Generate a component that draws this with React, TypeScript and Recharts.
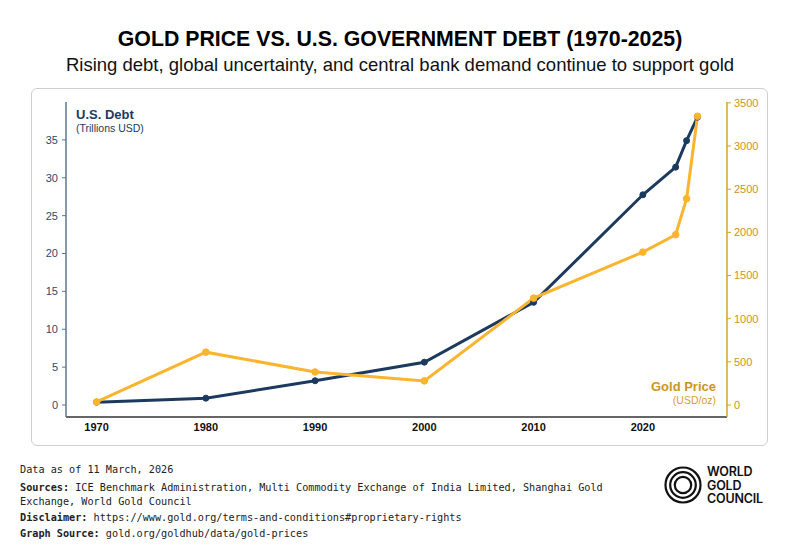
import React from "react";
import { LineChart, Line, XAxis, YAxis } from "recharts";

const years = [1970, 1980, 1990, 2000, 2010, 2020, 2023, 2024, 2025];
const debtTrillions = [0.37, 0.9, 3.2, 5.65, 13.55, 27.75, 31.4, 34.9, 38.0];
const goldPrice = [36, 612, 383, 279, 1238, 1771, 1972, 2390, 3345];
const xTicks = [1970, 1980, 1990, 2000, 2010, 2020];
const debtTicks = [0, 5, 10, 15, 20, 25, 30, 35];
const goldTicks = [0, 500, 1000, 1500, 2000, 2500, 3000, 3500];

const data = years.map((y, i) => ({ year: y, debt: debtTrillions[i], gold: goldPrice[i] }));

const NAVY = "#1b3a5e";
const GOLD = "#fbb42e";
const GOLD_TEXT = "#cc9520";
const SANS = "'Liberation Sans', Arial, Helvetica, sans-serif";
const MONO = "'DejaVu Sans Mono', 'Liberation Mono', monospace";

export default function App() {
  return (
    <div style={{ position: "absolute", left: 0, top: 0, width: 800, height: 560, background: "#fff", fontFamily: SANS, overflow: "hidden" }}>
      <div style={{ position: "absolute", left: 0, top: 26, width: 800, textAlign: "center", fontSize: 21.3, fontWeight: 700, color: "#000", lineHeight: "26px" }}>
        GOLD PRICE VS. U.S. GOVERNMENT DEBT (1970-2025)
      </div>
      <div style={{ position: "absolute", left: 0, top: 54, width: 800, textAlign: "center", fontSize: 18.5, color: "#111", lineHeight: "22px" }}>
        Rising debt, global uncertainty, and central bank demand continue to support gold
      </div>
      <div style={{ position: "absolute", left: 31, top: 88, width: 737, height: 358, border: "1px solid #cfcfcf", borderRadius: 6, boxSizing: "border-box" }} />
      <div style={{ position: "absolute", left: 0, top: 0 }}>
        <LineChart width={800} height={560} data={data} margin={{ top: 102, right: 0, bottom: 113, left: 0 }}>
          <XAxis
            dataKey="year"
            type="number"
            domain={[1967.2, 2027.7]}
            ticks={xTicks}
            allowDataOverflow
            tickLine={false}
            height={30}
            axisLine={{ stroke: "#333", strokeWidth: 1.3 }}
            tick={{ fill: "#111", fontSize: 11, fontWeight: 700, fontFamily: SANS }}
            tickMargin={0}
          />
          <YAxis
            yAxisId="debt"
            orientation="left"
            domain={[0, 40]}
            ticks={debtTicks}
            padding={{ top: 0, bottom: 12 }}
            width={66}
            axisLine={{ stroke: "#5f7690", strokeWidth: 1.5 }}
            tickLine={{ stroke: "#5f7690" }}
            tickSize={4}
            tickMargin={4}
            tick={{ fill: "#2c4a6e", fontSize: 11, fontFamily: SANS }}
          />
          <YAxis
            yAxisId="gold"
            orientation="right"
            domain={[0, 3510]}
            ticks={goldTicks}
            padding={{ top: 0, bottom: 12 }}
            width={73}
            axisLine={{ stroke: "#d8a228", strokeWidth: 1.5 }}
            tickLine={{ stroke: "#d8a228" }}
            tickSize={4}
            tickMargin={3}
            tick={{ fill: GOLD_TEXT, fontSize: 11, fontFamily: SANS }}
          />
          <Line
            yAxisId="debt"
            dataKey="debt"
            type="linear"
            stroke={NAVY}
            strokeWidth={3}
            dot={{ r: 3, fill: NAVY, stroke: NAVY, strokeWidth: 1 }}
            isAnimationActive={false}
          />
          <Line
            yAxisId="gold"
            dataKey="gold"
            type="linear"
            stroke={GOLD}
            strokeWidth={3}
            dot={{ r: 3.3, fill: GOLD, stroke: GOLD, strokeWidth: 1 }}
            isAnimationActive={false}
          />
        </LineChart>
      </div>
      <div style={{ position: "absolute", left: 76, top: 107, fontSize: 13, fontWeight: 700, color: NAVY, lineHeight: "16px" }}>U.S. Debt</div>
      <div style={{ position: "absolute", left: 76, top: 122, fontSize: 10.5, color: NAVY, lineHeight: "13px" }}>(Trillions USD)</div>
      <div style={{ position: "absolute", right: 84, top: 379, fontSize: 13, fontWeight: 700, color: GOLD_TEXT, lineHeight: "16px", textAlign: "right" }}>Gold Price</div>
      <div style={{ position: "absolute", right: 84, top: 394, fontSize: 10.5, color: "#d9a030", lineHeight: "13px", textAlign: "right" }}>(USD/oz)</div>

      <div style={{ position: "absolute", left: 20, top: 463, width: 620, fontFamily: MONO, fontSize: 10.2, color: "#222", lineHeight: "14px" }}>
        <div>Data as of 11 March, 2026</div>
        <div style={{ marginTop: 4 }}><b>Sources:</b> ICE Benchmark Administration, Multi Commodity Exchange of India Limited, Shanghai Gold<br />Exchange, World Gold Council</div>
        <div style={{ marginTop: 2 }}><b>Disclaimer:</b> https://www.gold.org/terms-and-conditions#proprietary-rights</div>
        <div style={{ marginTop: 2 }}><b>Graph Source:</b> gold.org/goldhub/data/gold-prices</div>
      </div>

      <svg style={{ position: "absolute", left: 663, top: 465 }} width={42} height={42}>
        <circle cx={20} cy={20} r={17.5} fill="none" stroke="#111" strokeWidth={2.2} />
        <circle cx={20} cy={20} r={12.8} fill="none" stroke="#111" strokeWidth={2.2} />
        <circle cx={20} cy={20} r={8.2} fill="none" stroke="#111" strokeWidth={2.2} />
      </svg>
      <div style={{ position: "absolute", left: 707, top: 465, fontFamily: "Inter, 'Liberation Sans', sans-serif", fontWeight: 600, fontSize: 12.5, letterSpacing: -0.2, color: "#111" }}>
        <div style={{ height: 13.5, lineHeight: "13.5px" }}>WORLD</div>
        <div style={{ height: 13.5, lineHeight: "13.5px" }}>GOLD</div>
        <div style={{ height: 13.5, lineHeight: "13.5px" }}>COUNCIL</div>
      </div>
    </div>
  );
}
